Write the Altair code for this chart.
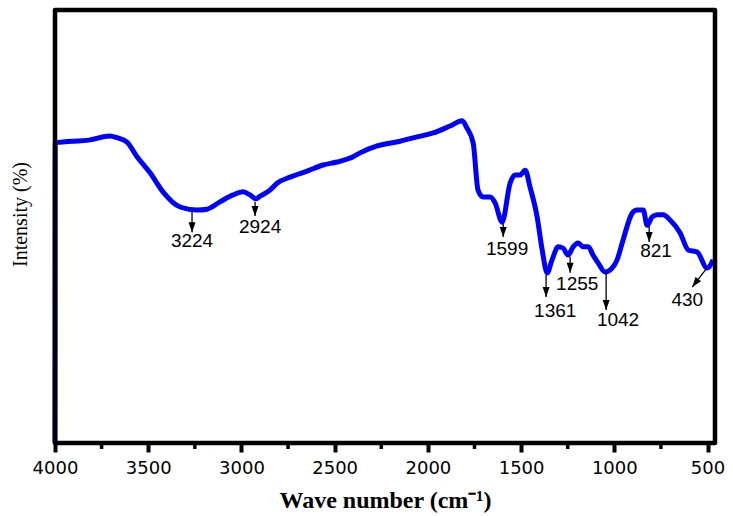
import altair as alt
import pandas as pd

# ---- spectrum data ----
wavenumber = [4000, 3999, 3812, 3707, 3667, 3614, 3560, 3490, 3421, 3329, 3238, 3185, 3115,
              3045, 2991, 2954, 2922, 2900, 2847, 2809, 2739, 2648, 2562, 2487, 2401,
              2364, 2272, 2149, 2058, 1972, 1881, 1816, 1790, 1757, 1731, 1704, 1666,
              1639, 1602, 1559, 1532, 1505, 1478, 1452, 1414, 1387, 1360, 1334, 1301,
              1275, 1248, 1221, 1194, 1167, 1140, 1114, 1087, 1049, 1012, 985, 953,
              904, 878, 845, 824, 797, 770, 738, 701, 647, 604, 556, 502, 470]
intensity = [0, 69.3, 70.0, 70.9, 70.5, 69.5, 66.1, 62.4, 58.0, 54.5, 53.8, 54.0, 55.7,
             57.3, 58.0, 57.3, 56.4, 57.0, 58.4, 60.0, 61.4, 62.8, 64.2, 64.9, 66.1,
             67.0, 68.6, 69.7, 70.7, 71.6, 73.2, 74.4, 72.7, 69.3, 58.4, 56.8, 56.8,
             55.4, 51.0, 60.0, 61.9, 61.9, 63.0, 59.1, 52.2, 44.6, 39.3, 42.3, 45.3,
             45.0, 43.4, 45.3, 46.2, 45.3, 45.3, 43.4, 41.6, 39.5, 40.4, 42.3, 46.9,
             53.1, 53.8, 53.8, 50.3, 52.2, 52.7, 52.7, 51.5, 48.5, 44.6, 44.1, 40.4,
             42.3]

# ---- peak annotations ----
ann_text = ["3224", "2924", "1599", "1361", "1255", "1042", "821", "430"]
arrow_x0 = [3265, 2927, 1596, 1366, 1237, 1044, 813, 507]
arrow_y0 = [53.6, 55.7, 50.6, 38.8, 43.0, 39.3, 50.1, 40.2]
arrow_x1 = [3265, 2927, 1596, 1366, 1237, 1044, 813, 582]
arrow_y1 = [48.7, 52.4, 47.6, 33.7, 39.3, 30.7, 46.4, 36.0]
arrow_angle = [0, 0, 0, 0, 0, 0, 0, 37]
label_x = [3265, 2900, 1575, 1317, 1199, 980, 776, 609]
label_y = [46.7, 49.9, 44.9, 30.4, 36.8, 28.4, 44.3, 33.0]

major_ticks = [4000, 3500, 3000, 2500, 2000, 1500, 1000, 500]
minor_ticks = [3750, 3250, 2750, 2250, 1750, 1250, 750]

spec_df = pd.DataFrame({"wn": wavenumber, "I": intensity})
ann_df = pd.DataFrame({"text": ann_text, "x0": arrow_x0, "y0": arrow_y0,
                       "x1": arrow_x1, "y1": arrow_y1, "ang": arrow_angle,
                       "lx": label_x, "ly": label_y})
minor_df = pd.DataFrame({"m": minor_ticks})

W, H = 660, 433
xscale = alt.Scale(domain=[4000, 460], nice=False, zero=False)
yscale = alt.Scale(domain=[0, 100], nice=False, zero=False)

x_axis = alt.Axis(values=major_ticks, format="d", title="Wave number (cm⁻¹)",
                  domain=False, grid=False, tickColor="black", tickWidth=4, tickSize=9,
                  labelFont="DejaVu Sans", labelFontSize=18, labelColor="black",
                  labelPadding=7, labelFlush=False, labelOverlap=False,
                  titleFont="Liberation Serif", titleFontSize=24, titleFontWeight="bold",
                  titleColor="black", titleY=64, titleBaseline="alphabetic")
y_axis = alt.Axis(title="Intensity (%)", domain=False, ticks=False, labels=False, grid=False,
                  titleFont="Liberation Serif", titleFontSize=20, titleFontWeight="normal",
                  titleColor="black", titleX=-35, titleY=204, titleBaseline="middle")

line = alt.Chart(spec_df).mark_line(color="#0000ff", strokeWidth=5,
                                    interpolate="monotone", strokeJoin="round").encode(
    x=alt.X("wn:Q", scale=xscale, axis=x_axis),
    y=alt.Y("I:Q", scale=yscale, axis=y_axis),
    order=alt.Order("wn:Q", sort="descending"),
)

arrows = alt.Chart(ann_df).mark_rule(color="black", strokeWidth=1.3).encode(
    x=alt.X("x0:Q", scale=xscale, axis=x_axis),
    y=alt.Y("y0:Q", scale=yscale, axis=y_axis),
    x2="x1:Q",
    y2="y1:Q",
)

heads = alt.Chart(ann_df).mark_point(shape="M-0.35,-1L0.35,-1L0,0Z", filled=True,
                                      color="black", size=400, opacity=1).encode(
    x=alt.X("x1:Q", scale=xscale, axis=x_axis),
    y=alt.Y("y1:Q", scale=yscale, axis=y_axis),
    angle=alt.Angle("ang:Q", scale=None),
)

labels = alt.Chart(ann_df).mark_text(font="Liberation Sans", fontSize=19, color="black",
                                      baseline="middle", align="center").encode(
    x=alt.X("lx:Q", scale=xscale, axis=x_axis),
    y=alt.Y("ly:Q", scale=yscale, axis=y_axis),
    text="text:N",
)

minor = alt.Chart(minor_df).mark_rule(color="black", strokeWidth=3.5, clip=False).encode(
    x=alt.X("m:Q", scale=xscale, axis=x_axis),
    y=alt.value(H),
    y2=alt.value(H + 6),
)

frame = alt.Chart(pd.DataFrame({"k": [0]})).mark_rect(
    fillOpacity=0, stroke="black", strokeWidth=4.5, strokeJoin="round", clip=False
).encode(x=alt.value(0), x2=alt.value(W), y=alt.value(0), y2=alt.value(H))

chart = alt.layer(line, arrows, heads, labels, minor, frame).properties(
    width=W, height=H,
    autosize=alt.AutoSizeParams(type="none"),
    padding={"left": 55, "top": 10, "right": 18, "bottom": 73},
    background="white",
).configure_view(strokeWidth=0)

chart.save("out.html", embed_options={"renderer": "svg", "actions": False})
